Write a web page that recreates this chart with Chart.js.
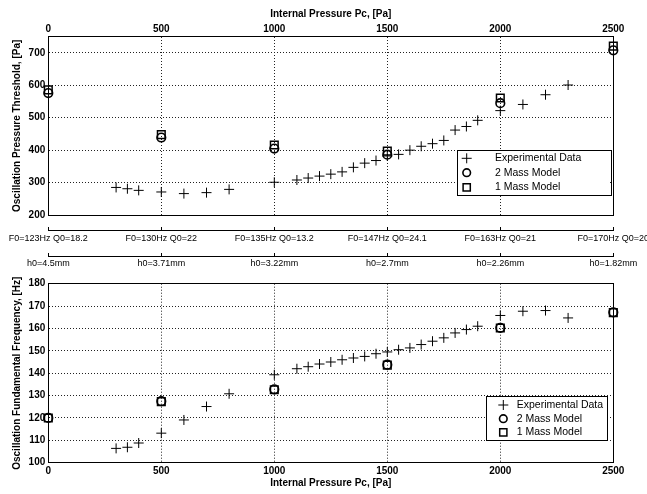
<!DOCTYPE html>
<html><head><meta charset="utf-8">
<script src="https://cdn.jsdelivr.net/npm/chart.js@4.4.0/dist/chart.umd.min.js"></script>
<style>
html,body{margin:0;padding:0;background:#fff;}
#wrap{position:relative;width:647px;height:494px;overflow:hidden;background:#fff;}
canvas{position:absolute;left:0;}
#c1{top:0;}
#c2{top:247px;}
</style></head><body>
<div id="wrap"><canvas id="c1" width="647" height="247"></canvas><canvas id="c2" width="647" height="247"></canvas></div>
<script>
// ---------- data ----------
const PC_TICKS = [0, 500, 1000, 1500, 2000, 2500];
const F0_LABELS = ['F0=123Hz Q0=18.2', 'F0=130Hz Q0=22', 'F0=135Hz Q0=13.2', 'F0=147Hz Q0=24.1', 'F0=163Hz Q0=21', 'F0=170Hz Q0=20'];
const H0_LABELS = ['h0=4.5mm', 'h0=3.71mm', 'h0=3.22mm', 'h0=2.7mm', 'h0=2.26mm', 'h0=1.82mm'];

const EXP_PC = [300, 350, 400, 500, 600, 700, 800, 1000, 1100, 1150, 1200, 1250, 1300, 1350, 1400, 1450, 1500,
                1550, 1600, 1650, 1700, 1750, 1800, 1850, 1900, 2000, 2100, 2200, 2300];
const EXP_THRESHOLD = [285, 281, 276, 271, 266, 269, 279, 301, 308, 314, 320, 326, 333, 347, 360, 368, 382,
                       387, 400, 412, 420, 430, 462, 473, 492, 522, 541, 571, 601];
const EXP_FREQ = [106.4, 106.9, 108.8, 113.2, 119.1, 125.1, 130.8, 139.3, 142.0, 142.9, 144.1, 145.0, 146.0, 146.8, 147.5, 148.7, 149.5,
                  150.5, 151.3, 152.8, 154.3, 155.8, 158.0, 159.5, 161.0, 165.8, 167.7, 168.0, 164.7];

const MODEL_PC = [0, 500, 1000, 1500, 2000, 2500];
const MASS2_THRESHOLD = [576, 439, 405, 386, 545, 708];
const MASS1_THRESHOLD = [586, 448, 416, 397, 561, 721];
const MASS2_FREQ = [120.0, 127.5, 132.8, 143.8, 160.3, 167.2];
const MASS1_FREQ = [120.0, 127.3, 132.6, 143.6, 160.2, 167.1];

const SERIES_NAMES = ['Experimental Data', '2 Mass Model', '1 Mass Model'];

// ---------- styling ----------
Chart.defaults.font.family = 'Arial, "Liberation Sans", Helvetica, sans-serif';
Chart.defaults.color = '#000';
const TICK_FONT = {size: 10, weight: 'bold'};
const TITLE_FONT = {size: 10, weight: 'bold'};
const NOTE_FONT = {size: 9};
const GRID_DASH = [1, 2];
const plainNum = v => String(v);

const fixW = w => s => { s.width = w; };
const fixH = h => s => { s.height = h; };
const noPad = s => { s.paddingLeft = 0; s.paddingRight = 0; s.paddingTop = 0; s.paddingBottom = 0; };

const boxLegend = {
  id: 'boxLegend',
  afterDraw(chart, args, o) {
    const ctx = chart.ctx;
    ctx.save();
    ctx.fillStyle = '#fff';
    ctx.fillRect(o.left, o.top, o.width, o.height);
    ctx.strokeStyle = '#000';
    ctx.lineWidth = 1;
    ctx.setLineDash([]);
    ctx.strokeRect(Math.round(o.left) + 0.5, Math.round(o.top) + 0.5, Math.round(o.width), Math.round(o.height));
    chart.data.datasets.forEach((ds, i) => {
      const x = o.symX, y = o.rows[i];
      ctx.beginPath();
      ctx.strokeStyle = '#000';
      ctx.lineWidth = ds.borderWidth;
      if (ds.pointStyle === 'cross') {
        const r = 5;
        ctx.moveTo(x - r, y); ctx.lineTo(x + r, y);
        ctx.moveTo(x, y - r); ctx.lineTo(x, y + r);
      } else if (ds.pointStyle === 'circle') {
        ctx.arc(x, y, 3.8, 0, Math.PI * 2);
      } else {
        ctx.rect(x - 3.6, y - 3.6, 7.2, 7.2);
      }
      ctx.stroke();
      ctx.fillStyle = '#000';
      ctx.font = '10.5px Arial, "Liberation Sans", sans-serif';
      ctx.textBaseline = 'middle';
      ctx.textAlign = 'left';
      ctx.fillText(ds.label, o.textX, y);
    });
    ctx.restore();
  }
};

function makeDatasets(expY, m2Y, m1Y) {
  return [
    {label: SERIES_NAMES[0], data: EXP_PC.map((x, i) => ({x, y: expY[i]})), xAxisID: 'x', yAxisID: 'y',
     pointStyle: 'cross', pointRadius: 5, borderWidth: 1, borderColor: '#000', backgroundColor: 'rgba(0,0,0,0)', clip: false},
    {label: SERIES_NAMES[1], data: MODEL_PC.map((x, i) => ({x, y: m2Y[i]})), xAxisID: 'x', yAxisID: 'y',
     pointStyle: 'circle', pointRadius: 4.3, borderWidth: 1.6, borderColor: '#000', backgroundColor: 'rgba(0,0,0,0)', clip: false},
    {label: SERIES_NAMES[2], data: MODEL_PC.map((x, i) => ({x, y: m1Y[i]})), xAxisID: 'x', yAxisID: 'y',
     pointStyle: 'rect', pointRadius: 5.4, borderWidth: 1.5, borderColor: '#000', backgroundColor: 'rgba(0,0,0,0)', clip: false}
  ];
}

const gridMain = {color: '#222', lineWidth: 1, drawTicks: false};
const borderMain = {color: '#000', width: 1, dash: GRID_DASH};
const borderOnly = {display: true, color: '#000', width: 1};

// ---------- top chart ----------
new Chart(document.getElementById('c1'), {
  type: 'scatter',
  data: {datasets: makeDatasets(EXP_THRESHOLD, MASS2_THRESHOLD, MASS1_THRESHOLD)},
  plugins: [boxLegend],
  options: {
    responsive: false, animation: false, devicePixelRatio: 1,
    layout: {padding: 0},
    plugins: {
      legend: {display: false}, tooltip: {enabled: false},
      boxLegend: {left: 456.5, top: 150, width: 153.5, height: 45, symX: 466.7, textX: 495, rows: [158.3, 172.7, 187.3]}
    },
    scales: {
      x: {type: 'linear', position: 'top', min: 0, max: 2500,
          ticks: {stepSize: 500, font: TICK_FONT, padding: 1, maxRotation: 0, callback: plainNum},
          grid: gridMain, border: borderMain,
          title: {display: true, text: 'Internal Pressure Pc, [Pa]', font: TITLE_FONT, padding: {top: 8, bottom: 0}},
          afterFit: fixH(36.7)},
      y: {type: 'linear', position: 'left', min: 200, max: 750,
          ticks: {stepSize: 100, includeBounds: false, font: TICK_FONT, padding: 3, callback: plainNum},
          grid: gridMain, border: borderMain,
          title: {display: true, text: 'Oscillation Pressure Threshold, [Pa]', font: TITLE_FONT, padding: {top: 11, bottom: 0}},
          afterFit: fixW(48.3)},
      y2: {type: 'linear', position: 'right', min: 200, max: 750,
           ticks: {display: false}, grid: {display: false}, border: borderOnly, afterFit: fixW(33.7)},
      xb: {type: 'linear', position: 'bottom', min: 0, max: 2500,
           ticks: {display: false}, grid: {display: false}, border: borderOnly, afterFit: fixH(32)},
      xF: {type: 'linear', axis: 'x', position: {y: 152.8}, min: 0, max: 2500,
           ticks: {stepSize: 500, font: NOTE_FONT, padding: 7, maxRotation: 0, minRotation: 0, autoSkip: false,
                   callback: v => F0_LABELS[PC_TICKS.indexOf(v)]},
           grid: {drawOnChartArea: false, drawTicks: true, tickLength: -4, color: '#000'},
           border: borderOnly, afterFit: noPad}
    }
  }
});

// ---------- bottom chart ----------
new Chart(document.getElementById('c2'), {
  type: 'scatter',
  data: {datasets: makeDatasets(EXP_FREQ, MASS2_FREQ, MASS1_FREQ)},
  plugins: [boxLegend],
  options: {
    responsive: false, animation: false, devicePixelRatio: 1,
    layout: {padding: 0},
    plugins: {
      legend: {display: false}, tooltip: {enabled: false},
      boxLegend: {left: 486, top: 149, width: 121.3, height: 44, symX: 503.3, textX: 516.7, rows: [158, 171.7, 185.3]}
    },
    scales: {
      x: {type: 'linear', position: 'bottom', min: 0, max: 2500,
          ticks: {stepSize: 500, font: TICK_FONT, padding: 3, maxRotation: 0, callback: plainNum},
          grid: gridMain, border: borderMain,
          title: {display: true, text: 'Internal Pressure Pc, [Pa]', font: TITLE_FONT, padding: {top: 0, bottom: 5}},
          afterFit: fixH(31.3)},
      y: {type: 'linear', position: 'left', min: 100, max: 180,
          ticks: {stepSize: 10, font: TICK_FONT, padding: 3, callback: plainNum},
          grid: gridMain, border: borderMain,
          title: {display: true, text: 'Oscillation Fundamental Frequency, [Hz]', font: TITLE_FONT, padding: {top: 11, bottom: 0}},
          afterFit: fixW(48.3)},
      y2: {type: 'linear', position: 'right', min: 100, max: 180,
           ticks: {display: false}, grid: {display: false}, border: borderOnly, afterFit: fixW(33.7)},
      xt: {type: 'linear', position: 'top', min: 0, max: 2500,
           ticks: {display: false}, grid: {display: false}, border: borderOnly, afterFit: fixH(36.7)},
      xH: {type: 'linear', axis: 'x', position: {y: 192.25}, min: 0, max: 2500,
           ticks: {stepSize: 500, font: NOTE_FONT, padding: 6, maxRotation: 0, minRotation: 0, autoSkip: false,
                   callback: v => H0_LABELS[PC_TICKS.indexOf(v)]},
           grid: {drawOnChartArea: false, drawTicks: true, tickLength: -4, color: '#000'},
           border: borderOnly, afterFit: noPad}
    }
  }
});
</script>
</body></html>
